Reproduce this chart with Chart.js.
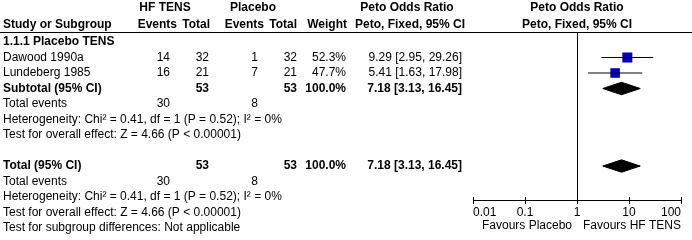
<!DOCTYPE html>
<html>
<head>
<meta charset="utf-8">
<script src="https://cdn.jsdelivr.net/npm/chart.js@4.4.1/dist/chart.umd.min.js"></script>
<style>
  html, body { margin: 0; padding: 0; background: #fff; }
  canvas { display: block; }
</style>
</head>
<body>
<canvas id="forest" width="692" height="240"></canvas>
<script>
// ── data ─────────────────────────────────────────────
const studies   = ['Dawood 1990a', 'Lundeberg 1985'];
const hfEvents  = [14, 16];
const hfTotal   = [32, 21];
const plEvents  = [1, 7];
const plTotal   = [32, 21];
const weights   = [52.3, 47.7];
const orValue   = [9.29, 5.41];
const ciLow     = [2.95, 1.63];
const ciHigh    = [29.26, 17.98];

const summaryLabels = ['Subtotal (95% CI)', 'Total (95% CI)'];
const summaryHfTotal = [53, 53];
const summaryPlTotal = [53, 53];
const summaryWeight  = [100.0, 100.0];
const summaryOR      = [7.18, 7.18];
const summaryLow     = [3.13, 3.13];
const summaryHigh    = [16.45, 16.45];
const totalEvents    = [30, 8];   // HF TENS, Placebo

const heterogeneity = 'Heterogeneity: Chi² = 0.41, df = 1 (P = 0.52); I² = 0%';
const overallEffect = 'Test for overall effect: Z = 4.66 (P < 0.00001)';
const subgroupTest  = 'Test for subgroup differences: Not applicable';
const axisTicks     = [0.01, 0.1, 1, 10, 100];

// ── layout ───────────────────────────────────────────
const FONT = '"Liberation Sans", Arial, sans-serif';
const ROW = { head1: -2.2, head2: -1.1, group: 0, studies: [1, 2], summary: [3, 8],
              events: [4, 9], het: [5, 10], effect: [6, 11], subgroup: 12 };
const COL = { label: 3, hfEv: 170, hfTot: 209, plEv: 258, plTot: 297, weight: 346, ci: 462 };

function ciText(m, lo, hi) {
  return m.toFixed(2) + ' [' + lo.toFixed(2) + ', ' + hi.toFixed(2) + ']';
}

const tablePlugin = {
  id: 'forestTable',
  beforeDatasetsDraw(chart) {
    const { ctx, chartArea: a, scales: { x } } = chart;
    ctx.save();
    ctx.fillStyle = '#000';
    // header rule across the whole table
    ctx.fillRect(0, Math.round(a.top) - 1, chart.width, 1);
    // line of no effect
    const x1 = Math.round(x.getPixelForValue(1));
    ctx.fillRect(x1, a.top, 1, a.bottom - a.top);
    // upper half of the axis ticks
    axisTicks.forEach(v => {
      ctx.fillRect(Math.round(x.getPixelForValue(v)), a.bottom - 3, 1, 3);
    });
    ctx.restore();
  },
  afterDraw(chart) {
    const { ctx, chartArea: a, scales: { x, y } } = chart;
    const put = (t, px, row, align, bold) => {
      ctx.font = (bold ? 'bold ' : '') + '12px ' + FONT;
      ctx.textAlign = align;
      ctx.fillText(t, px, y.getPixelForValue(row));
    };
    ctx.save();
    ctx.fillStyle = '#000';
    ctx.textBaseline = 'middle';

    // headers
    put('HF TENS', 165, ROW.head1, 'center', true);
    put('Placebo', 253, ROW.head1, 'center', true);
    put('Peto Odds Ratio', 407, ROW.head1, 'center', true);
    put('Peto Odds Ratio', (a.left + a.right) / 2, ROW.head1, 'center', true);
    put('Study or Subgroup', COL.label, ROW.head2, 'left', true);
    put('Events', 177, ROW.head2, 'right', true);
    put('Total', 210, ROW.head2, 'right', true);
    put('Events', 264, ROW.head2, 'right', true);
    put('Total', 297, ROW.head2, 'right', true);
    put('Weight', 347, ROW.head2, 'right', true);
    put('Peto, Fixed, 95% CI', 410, ROW.head2, 'center', true);
    put('Peto, Fixed, 95% CI', (a.left + a.right) / 2, ROW.head2, 'center', true);

    put('1.1.1 Placebo TENS', COL.label, ROW.group, 'left', true);

    studies.forEach((s, i) => {
      const r = ROW.studies[i];
      put(s, COL.label, r, 'left');
      put(String(hfEvents[i]), COL.hfEv, r, 'right');
      put(String(hfTotal[i]), COL.hfTot, r, 'right');
      put(String(plEvents[i]), COL.plEv, r, 'right');
      put(String(plTotal[i]), COL.plTot, r, 'right');
      put(weights[i].toFixed(1) + '%', COL.weight, r, 'right');
      put(ciText(orValue[i], ciLow[i], ciHigh[i]), COL.ci, r, 'right');
    });

    summaryLabels.forEach((s, i) => {
      const r = ROW.summary[i];
      put(s, COL.label, r, 'left', true);
      put(String(summaryHfTotal[i]), COL.hfTot, r, 'right', true);
      put(String(summaryPlTotal[i]), COL.plTot, r, 'right', true);
      put(summaryWeight[i].toFixed(1) + '%', COL.weight, r, 'right', true);
      put(ciText(summaryOR[i], summaryLow[i], summaryHigh[i]), COL.ci, r, 'right', true);

      put('Total events', COL.label, ROW.events[i], 'left');
      put(String(totalEvents[0]), COL.hfEv, ROW.events[i], 'right');
      put(String(totalEvents[1]), COL.plEv, ROW.events[i], 'right');
      put(heterogeneity, COL.label, ROW.het[i], 'left');
      put(overallEffect, COL.label, ROW.effect[i], 'left');
    });
    put(subgroupTest, COL.label, ROW.subgroup, 'left');

    // axis captions
    const x1 = x.getPixelForValue(1);
    ctx.font = '12px ' + FONT;
    ctx.textAlign = 'right';
    ctx.fillText('Favours Placebo', x1 - 5, a.bottom + 26);
    ctx.textAlign = 'left';
    ctx.fillText('Favours HF TENS', x1 + 6, a.bottom + 26);
    ctx.restore();
  }
};

// ── marks ────────────────────────────────────────────
const datasets = [];
studies.forEach((s, i) => {
  datasets.push({
    data: [{ x: ciLow[i], y: ROW.studies[i] }, { x: ciHigh[i], y: ROW.studies[i] }],
    borderColor: '#000', borderWidth: 1, pointRadius: 0, fill: false
  });
});
datasets.push({
  data: studies.map((s, i) => ({ x: orValue[i], y: ROW.studies[i] })),
  showLine: false,
  pointStyle: 'rect',
  pointRadius: weights.map(w => 7.1 * Math.sqrt(w / 52.3)),
  pointBackgroundColor: '#0000CC',
  pointBorderWidth: 0
});
summaryLabels.forEach((s, i) => {
  const r = ROW.summary[i], h = 0.4;
  datasets.push({
    data: [
      { x: summaryLow[i], y: r }, { x: summaryOR[i], y: r - h },
      { x: summaryHigh[i], y: r }, { x: summaryOR[i], y: r + h },
      { x: summaryLow[i], y: r }
    ],
    borderColor: '#000', backgroundColor: '#000', borderWidth: 1,
    pointRadius: 0, fill: 'shape', tension: 0
  });
});

new Chart(document.getElementById('forest'), {
  type: 'line',
  data: { datasets },
  options: {
    responsive: false,
    animation: false,
    events: [],
    devicePixelRatio: 1,
    layout: { padding: { left: 473, right: 11, top: 33, bottom: 0 } },
    plugins: { legend: { display: false }, tooltip: { enabled: false } },
    scales: {
      x: {
        type: 'logarithmic',
        min: 0.01, max: 100,
        afterBuildTicks: s => { s.ticks = axisTicks.map(v => ({ value: v })); },
        afterFit: s => { s.height = 40; },
        border: { display: true, color: '#000', width: 1 },
        grid: { drawOnChartArea: false, drawTicks: true, tickLength: 4, color: '#000' },
        ticks: {
          align: 'inner', autoSkip: false, maxRotation: 0, padding: 1,
          color: '#000', font: { family: FONT, size: 12 },
          callback: v => String(v)
        }
      },
      y: {
        type: 'linear', display: false, reverse: true,
        min: -0.58, max: 10.19
      }
    }
  },
  plugins: [tablePlugin]
});
</script>
</body>
</html>
